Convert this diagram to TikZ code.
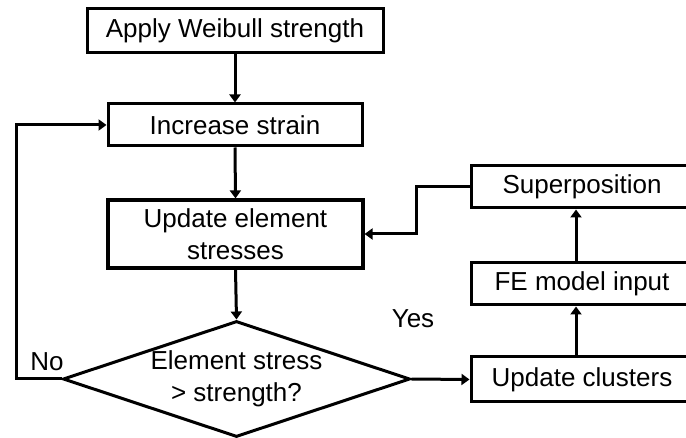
\documentclass[tikz,border=0pt]{standalone}
\usepackage{fontspec}
\setmainfont{Liberation Sans}
\usetikzlibrary{shapes.geometric,arrows.meta}
\begin{document}
\begin{tikzpicture}[x=1pt,y=-1pt,
  every node/.style={font=\fontsize{26}{32}\selectfont},
  box/.style={draw,line width=3pt,rectangle,inner sep=0pt,align=center},
  txt/.style={inner sep=0pt,align=center},
  arr/.style={line width=3pt,-{Triangle[length=8pt,width=11pt]}}]
\useasboundingbox (0,0) rectangle (686,438);
\node[box,minimum width=296,minimum height=44] (b1) at (235,31) {Apply Weibull strength};
\node[box,minimum width=254,minimum height=42] (b2) at (235,125) {Increase strain};
\node[box,minimum width=255,minimum height=68,line width=3.2pt] (b3) at (235.5,234) {Update element\\stresses};
\node[diamond,draw,line width=3pt,minimum width=347,minimum height=116,inner sep=0pt] (d) at (236.5,379) {};
\node[txt] (dt) at (d.center) {Element stress\\> strength?};
\node[box,minimum width=222,minimum height=42] (sp) at (582,187) {Superposition};
\node[box,minimum width=222,minimum height=42] (fe) at (582,284) {FE model input};
\node[box,minimum width=222,minimum height=45] (uc) at (582,379.5) {Update clusters};
\node[txt] (no) at (47,362) {No};
\node[txt] (yes) at (413,319) {Yes};
\coordinate (lx) at (16,0);
\coordinate (jx) at (416,0);
\coordinate (ax) at (576,0);
\draw[arr] (b1.south) -- (b2.north);
\draw[arr] (b2.south) -- (b3.north);
\draw[arr] (b3.south) -- (d.north);
\draw[arr] (d.west) -- (d.west -| lx) -- (lx |- b2.west) -- (b2.west);
\draw[arr] (d.east) -- (uc.west);
\draw[arr] (ax |- uc.north) -- (ax |- fe.south);
\draw[arr] (ax |- fe.north) -- (ax |- sp.south);
\draw[arr] (sp.west) -- (sp.west -| jx) -- (jx |- b3.east) -- (b3.east);
\end{tikzpicture}
\end{document}
